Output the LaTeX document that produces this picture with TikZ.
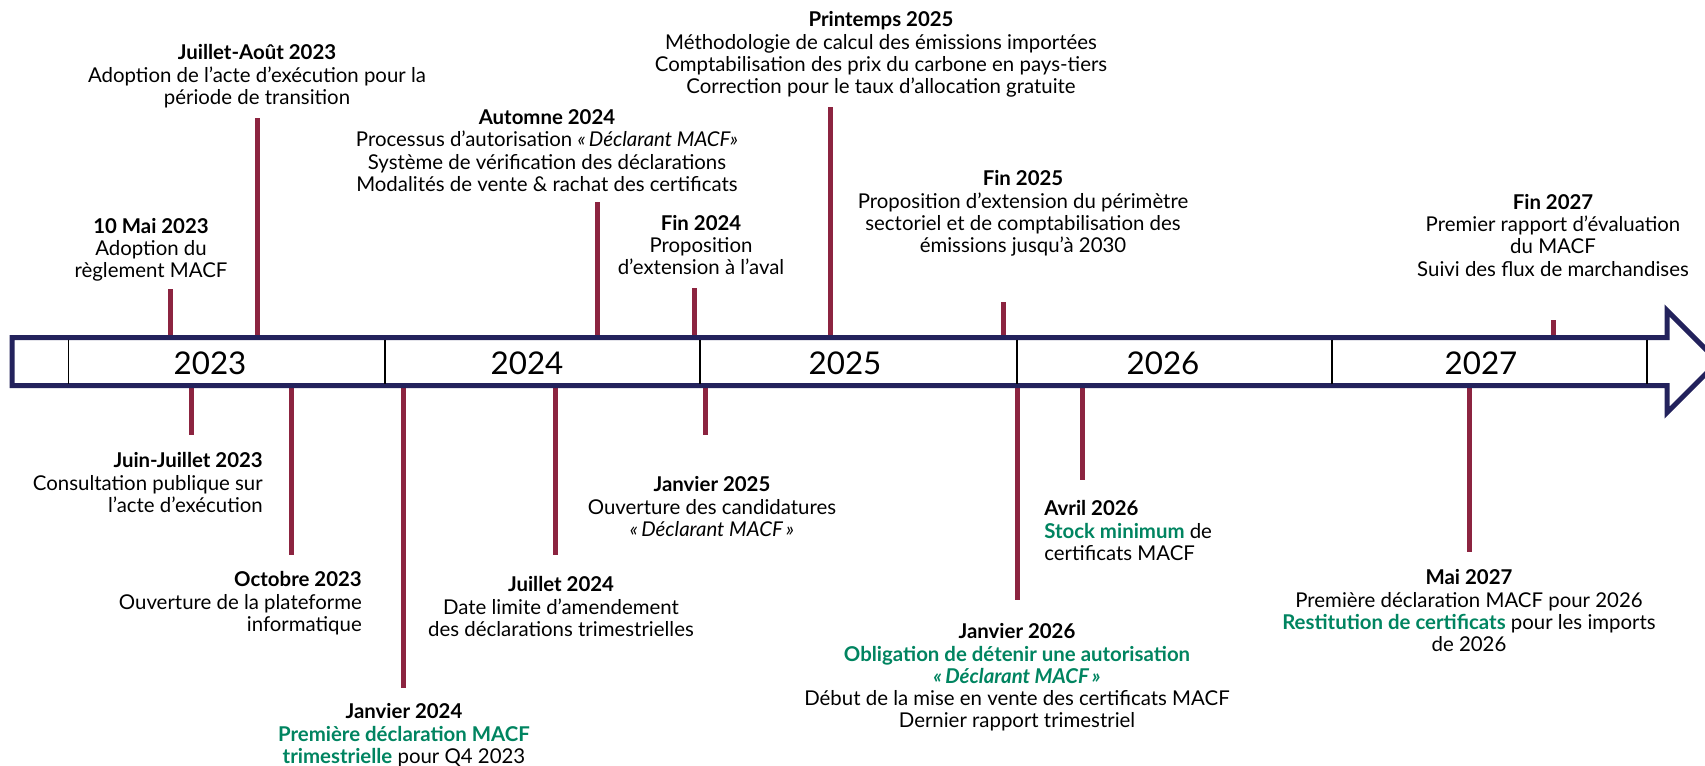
\documentclass[tikz,border=0pt]{standalone}
\usepackage{fontspec}
\setmainfont{Lato}
\definecolor{navy}{RGB}{35,34,92}
\definecolor{stickred}{RGB}{140,36,64}
\definecolor{hlgreen}{RGB}{0,132,96}
\newcommand\evfont{\fontsize{15.3}{16.7}\selectfont}
\newcommand\hl[1]{\textcolor{hlgreen}{\bfseries #1}}
\newcommand\ttl[1]{{\bfseries #1}}
\begin{document}
\begin{tikzpicture}[x=0.75pt,y=-0.75pt,
  evt/.style={align=center, inner sep=0pt, font=\evfont, anchor=north},
  evtr/.style={align=right, inner sep=0pt, font=\evfont, anchor=north east},
  evtl/.style={align=left, inner sep=0pt, font=\evfont, anchor=north west},
  stick/.style={line width=3.75pt, draw=stickred},
  band/.style={line width=3.75pt, draw=navy, fill=white, line join=miter},
  divider/.style={line width=1pt, draw=black},
  year/.style={font=\fontsize{23.5}{27}\selectfont, inner sep=0pt}]
\useasboundingbox (0,0) rectangle (1705,765);
\clip (0,0) rectangle (1705,765);

% stick end points
\coordinate (u1a) at (170,361); \coordinate (u1b) at (170,289);
\coordinate (u2a) at (257,361); \coordinate (u2b) at (257,118);
\coordinate (u3a) at (597,361); \coordinate (u3b) at (597,202);
\coordinate (u4a) at (694,361); \coordinate (u4b) at (694,288);
\coordinate (u5a) at (830,361); \coordinate (u5b) at (830,107);
\coordinate (u6a) at (1003,361); \coordinate (u6b) at (1003,302);
\coordinate (u7a) at (1553,361); \coordinate (u7b) at (1553,320);
\coordinate (l1a) at (191,361); \coordinate (l1b) at (191,435);
\coordinate (l2a) at (291,361); \coordinate (l2b) at (291,555);
\coordinate (l3a) at (403,361); \coordinate (l3b) at (403,688);
\coordinate (l4a) at (555,361); \coordinate (l4b) at (555,555);
\coordinate (l5a) at (705,361); \coordinate (l5b) at (705,435);
\coordinate (l6a) at (1017,361); \coordinate (l6b) at (1017,600);
\coordinate (l7a) at (1082,361); \coordinate (l7b) at (1082,480);
\coordinate (l8a) at (1469,361); \coordinate (l8b) at (1469,552);

\foreach \s in {u1,u2,u3,u4,u5,u6,u7,l1,l2,l3,l4,l5,l6,l7,l8}
  \draw[stick] (\s a) -- (\s b);

% timeline band with arrow head
\draw[band] (12,337.5) -- (1667,337.5) -- (1667,310.5) -- (1718,361.5)
  -- (1667,412.5) -- (1667,385.5) -- (12,385.5) -- cycle;

% dividers
\foreach \x [count=\i] in {68.5,385,700,1017,1332,1647} {
  \coordinate (d\i t) at (\x,339.5);
  \coordinate (d\i b) at (\x,383.5);
  \draw[divider] (d\i t) -- (d\i b);
}

% years
\node[year] (y23) at (210,363) {2023};
\node[year] (y24) at (527,363) {2024};
\node[year] (y25) at (845,363) {2025};
\node[year] (y26) at (1163,363) {2026};
\node[year] (y27) at (1481,363) {2027};

% upper events
\node[evt] (e1) at (151,218) {\ttl{10 Mai 2023}\\Adoption du\\règlement MACF};
\node[evt] (e2) at (257,44.5) {\ttl{Juillet-Août 2023}\\Adoption de l’acte d’exécution pour la\\période de transition};
\node[evt] (e3) at (547,109.5) {\ttl{Automne 2024}\\Processus d’autorisation \textit{«\,Déclarant MACF»}\\Système de vérification des déclarations\\Modalités de vente \& rachat des certificats};
\node[evt] (e4) at (701,215) {\ttl{Fin 2024}\\Proposition\\d’extension à l’aval};
\node[evt] (e5) at (881,11.5) {\ttl{Printemps 2025}\\Méthodologie de calcul des émissions importées\\Comptabilisation des prix du carbone en pays-tiers\\Correction pour le taux d’allocation gratuite};
\node[evt] (e6) at (1023,170.5) {\ttl{Fin 2025}\\Proposition d’extension du périmètre\\sectoriel et de comptabilisation des\\émissions jusqu’à 2030};
\node[evt] (e7) at (1553,194) {\ttl{Fin 2027}\\Premier rapport d’évaluation\\du MACF\\Suivi des flux de marchandises};

% lower events
\node[evtr] (f1) at (263,452.5) {\ttl{Juin-Juillet 2023}\\Consultation publique sur\\l’acte d’exécution};
\node[evtr] (f2) at (362,571.5) {\ttl{Octobre 2023}\\Ouverture de la plateforme\\informatique};
\node[evt] (f3) at (404,703.5) {\ttl{Janvier 2024}\\\hl{Première déclaration MACF}\\\hl{trimestrielle} pour Q4 2023};
\node[evt] (f4) at (561,576.5) {\ttl{Juillet 2024}\\Date limite d’amendement\\des déclarations trimestrielles};
\node[evt] (f5) at (712,476.5) {\ttl{Janvier 2025}\\Ouverture des candidatures\\\textit{«\,Déclarant MACF\,»}};
\node[evt] (f6) at (1017,623.5) {\ttl{Janvier 2026}\\\hl{Obligation de détenir une autorisation}\\\hl{\itshape «\,Déclarant MACF\,»}\\Début de la mise en vente des certificats MACF\\Dernier rapport trimestriel};
\node[evtl] (f7) at (1044,500.5) {\ttl{Avril 2026}\\\hl{Stock minimum} de\\certificats MACF};
\node[evt] (f8) at (1469,569.5) {\ttl{Mai 2027}\\Première déclaration MACF pour 2026\\\hl{Restitution de certificats} pour les imports\\de 2026};
\end{tikzpicture}
\end{document}
